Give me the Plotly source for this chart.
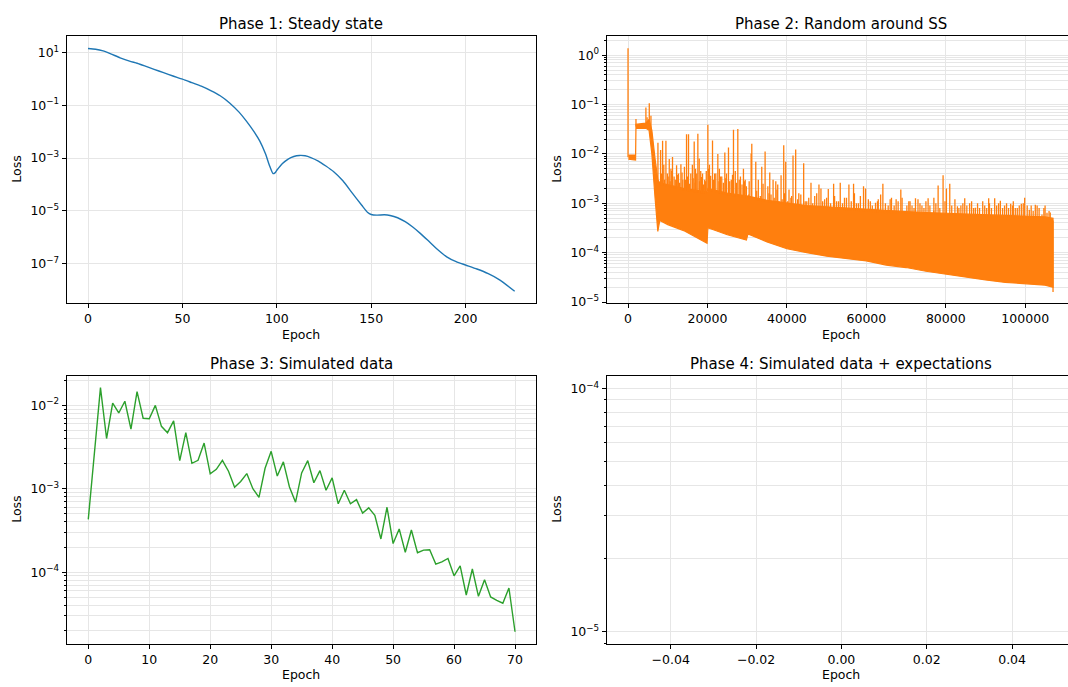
import numpy as np
import plotly.graph_objects as go

# ---------------- data ----------------
# Phase 1: steady state
p1_epoch = [0, 4, 8, 12, 17, 22, 26, 30, 35, 40, 45, 50, 55, 60, 65, 70, 75, 80, 84, 88,
            91, 94, 96, 98, 99, 100, 103, 106, 109, 112, 115, 118, 122, 126, 130, 135, 140,
            145, 148, 150, 153, 157, 160, 164, 168, 172, 176, 180, 185, 190, 195, 200, 206,
            212, 218, 226]
p1_loss = [14.1, 13.3, 11.5, 8.9, 6.3, 4.7, 3.9, 3.1, 2.3, 1.73, 1.29, 0.98, 0.72, 0.53,
           0.36, 0.23, 0.123, 0.055, 0.0245, 0.0098, 0.0044, 0.00146, 0.00055, 0.000258,
           0.000275, 0.000345, 0.00062, 0.00092, 0.00115, 0.00126, 0.00122, 0.00105,
           0.00077, 0.0005, 0.00031, 0.000138, 4.7e-5, 1.63e-5, 8.9e-6, 7.3e-6, 6.9e-6,
           7.1e-6, 6.7e-6, 5.5e-6, 3.9e-6, 2.45e-6, 1.41e-6, 7.7e-7, 3.55e-7, 1.82e-7,
           1.19e-7, 8.9e-8, 6.3e-8, 4.2e-8, 2.45e-8, 9.1e-9]

# Phase 2: random around SS -- dense band (lower / upper edge) plus spikes
p2_band_epoch = [100, 1900, 2000, 4500, 5300, 6000, 6800, 7500, 8000, 10000, 14000, 19900,
                 20100, 25000, 29800, 30200, 35000, 40000, 45000, 50000, 55000, 60000,
                 65000, 70000, 75000, 80000, 85000, 90000, 95000, 100000, 105000, 107000]
p2_band_low = [7.8e-3, 7.5e-3, 3.3e-2, 3.3e-2, 3.0e-2, 1.0e-2, 1.3e-3, 2.7e-4, 4.5e-4,
               3.7e-4, 2.8e-4, 1.55e-4, 3.2e-4, 2.3e-4, 1.8e-4, 2.4e-4, 1.65e-4, 1.2e-4,
               1.0e-4, 8.5e-5, 7.6e-5, 6.8e-5, 5.6e-5, 5.0e-5, 4.2e-5, 3.6e-5, 3.2e-5,
               2.8e-5, 2.5e-5, 2.35e-5, 2.2e-5, 2.0e-5]
p2_band_high = [9.5e-3, 9.5e-3, 4.0e-2, 4.2e-2, 5.0e-2, 3.0e-2, 8.0e-3, 3.0e-3, 2.6e-3,
                2.4e-3, 2.0e-3, 1.7e-3, 2.0e-3, 1.6e-3, 1.4e-3, 1.4e-3, 1.15e-3, 1.0e-3,
                9.0e-4, 8.5e-4, 8.0e-4, 7.5e-4, 7.0e-4, 6.8e-4, 6.5e-4, 6.3e-4, 6.0e-4,
                5.8e-4, 5.6e-4, 5.5e-4, 5.3e-4, 5.0e-4]
p2_spike_epoch = [0, 2000, 4500, 4800, 5350, 5770, 7530, 8200, 8700, 9000, 9540, 9900, 10380,
                  10800, 11200, 11600, 12220, 12700, 13310, 13800, 14200, 14730, 15230, 15800,
                  16200, 16660, 17000, 17580, 17920, 18300, 18760, 19300, 19700, 20100, 20500,
                  21270, 21800, 22610, 23000, 23600, 24370, 24800, 25290, 26000, 26550, 27000,
                  27640, 28300, 29060, 29500, 30500, 30990, 31160, 32160, 32800, 33000, 33670,
                  34000, 34510, 35200, 35680, 36000, 36520, 37200, 37690, 38000, 38530, 39200,
                  39700, 40530, 41000, 41540, 42210, 43000, 44220, 45000, 46060, 47000, 48070,
                  48570, 49500, 50420, 51760, 52500, 53430, 54500, 55610, 56780, 57500, 58500,
                  59290, 59800, 61000, 62310, 63000, 64160, 65500, 66330, 67500, 68680, 69850,
                  70690, 71500, 72370, 73500, 74500, 75550, 76980, 77500, 78070, 79320, 80160,
                  81000, 82930, 83800, 84770, 86000, 87450, 88500, 89800, 90800, 91500, 92310,
                  93740, 94800, 96340, 97500, 99020, 99860, 100500, 101030, 102540, 103500,
                  104220, 105480, 106000, 106740, 107000]
p2_spike_loss = [1.38, 0.051, 0.087, 0.055, 0.106, 0.059, 0.0168, 0.012, 0.0185, 0.006, 0.0185,
                 0.004, 0.0079, 0.005, 0.0087, 0.0035, 0.0059, 0.004, 0.0062, 0.003, 0.0055,
                 0.025, 0.025, 0.004, 0.006, 0.0178, 0.005, 0.0257, 0.0081, 0.0045, 0.004,
                 0.003, 0.0045, 0.039, 0.006, 0.0186, 0.004, 0.010, 0.005, 0.0035, 0.0107,
                 0.004, 0.0135, 0.003, 0.031, 0.0045, 0.032, 0.0035, 0.005, 0.003, 0.0028,
                 0.0102, 0.016, 0.0069, 0.003, 0.0012, 0.0055, 0.0025, 0.0112, 0.0022, 0.0042,
                 0.0015, 0.003, 0.0028, 0.0024, 0.0011, 0.0037, 0.015, 0.0069, 0.0019, 0.0013,
                 0.0093, 0.0123, 0.0016, 0.0065, 0.0011, 0.0026, 0.0014, 0.0024, 0.002, 0.0012,
                 0.00195, 0.0025, 0.0011, 0.0026, 0.0013, 0.0024, 0.0025, 0.0010, 0.0014,
                 0.0022, 0.0020, 0.0011, 0.00102, 0.0012, 0.0025, 0.0009, 0.0013, 0.0012,
                 0.0019, 0.00069, 0.0011, 0.0009, 0.00126, 0.0010, 0.0008, 0.00126, 0.00071,
                 0.0010, 0.0023, 0.0037, 0.0020, 0.0025, 0.00087, 0.0009, 0.00126, 0.0010,
                 0.00081, 0.0008, 0.0009, 0.00126, 0.0008, 0.00126, 0.00113, 0.0009, 0.00098,
                 0.0008, 0.00098, 0.0013, 0.0009, 0.00074, 0.00093, 0.0008, 0.00059, 0.00064,
                 0.0007, 0.00047, 1.6e-5]
# smaller spikes forming the ragged top of the band
p2_grass_epoch = [8400, 9200, 10100, 10600, 11000, 11900, 12400, 13000, 13600, 14500, 15000,
                  15500, 16400, 16900, 17300, 18000, 18500, 19000, 19500, 20300, 20800, 21500,
                  22100, 22900, 23300, 24000, 24600, 25600, 26300, 27300, 28000, 28700, 29300,
                  29800,
                  30400, 31600, 32400, 33300, 34200, 35500, 36800, 37500, 38800, 39400, 40200,
                  41200, 42700, 43500, 44600, 45500, 46500, 47500, 49000, 50000, 51000, 52000,
                  53000, 54000, 55000, 56200, 57000, 58000, 60500, 61500, 62800, 63600, 64800,
                  66000, 67000, 68000, 69000, 70200, 71000, 72000, 73000, 74000, 75000, 76000,
                  77000, 78500, 79800, 81500, 82300, 83300, 84300, 85300, 86500, 87000, 88000,
                  89300, 90300, 91000, 92800, 93300, 94300, 95300, 95800, 96800, 97000, 98000,
                  98500, 99500, 101500, 102000, 103000, 104700, 105000, 106300]
p2_grass_loss = [4e-3, 3e-3, 3.5e-3, 2.8e-3, 4.5e-3, 3e-3, 3.8e-3, 2.6e-3, 4.2e-3, 3e-3, 3.5e-3,
                 2.5e-3, 3.2e-3, 2.6e-3, 4e-3, 2.8e-3, 3.4e-3, 2.4e-3, 2.8e-3, 5e-3, 3.6e-3,
                 3e-3, 4e-3, 2.8e-3, 3.5e-3, 2.6e-3, 3.2e-3, 2.8e-3, 3.8e-3, 2.6e-3, 3e-3,
                 2.4e-3, 2.8e-3, 2.2e-3,
                 1.5e-3, 1.2e-3, 1.8e-3, 1.4e-3, 1.1e-3, 1.6e-3, 1.3e-3, 1.9e-3, 1.2e-3, 1.6e-3,
                 1.1e-3, 1.4e-3, 1.2e-3, 1.5e-3, 1.1e-3, 1.3e-3, 1.0e-3, 1.6e-3, 1.1e-3, 1.3e-3,
                 1.0e-3, 1.4e-3, 1.1e-3, 1.0e-3, 1.3e-3, 1.1e-3, 1.6e-3, 1.0e-3, 1.2e-3, 9e-4,
                 1.1e-3, 1.5e-3, 1.0e-3, 1.2e-3, 9e-4, 1.1e-3, 1.3e-3, 9e-4, 1.1e-3, 8e-4,
                 1.2e-3, 9e-4, 1.1e-3, 9e-4, 1.3e-3, 8e-4, 1.1e-3, 9e-4, 1.2e-3, 8e-4, 1.0e-3,
                 9e-4, 1.1e-3, 8e-4, 1.0e-3, 1.1e-3, 8e-4, 1.0e-3, 9e-4, 1.0e-3, 8e-4, 1.0e-3,
                 8e-4, 9e-4, 1.1e-3, 8e-4, 9e-4, 1.0e-3, 9e-4, 7e-4, 9e-4, 8e-4, 9e-4, 6.5e-4]

# Phase 3: simulated data
p3_epoch = list(range(71))
p3_loss = [4.3e-4, 2.6e-3, 0.0163, 0.0040, 0.0106, 0.0081, 0.0112, 0.0052, 0.0146, 0.0070,
           0.0069, 0.0100, 0.0056, 0.0047, 0.0065, 0.00217, 0.0047, 0.00202, 0.00219, 0.00353,
           0.00151, 0.00171, 0.00219, 0.00162, 0.00104, 0.00122, 0.00152, 0.00100, 0.00079,
           0.00176, 0.00281, 0.00142, 0.00210, 0.00105, 0.00069, 0.00155, 0.00217, 0.00118,
           0.00165, 0.00096, 0.00135, 0.00066, 0.00096, 0.00066, 0.00074, 0.00051, 0.00059,
           0.00048, 0.00025, 0.00060, 0.00022, 0.00033, 0.000173, 0.00032, 0.000171, 0.000184,
           0.000186, 0.000125, 0.000133, 0.000146, 9.04e-5, 0.000119, 5.32e-5, 0.000109,
           5.13e-5, 8.1e-5, 5.04e-5, 4.6e-5, 4.24e-5, 6.46e-5, 1.93e-5]

# Phase 4: no data
p4_epoch = []
p4_loss = []

titles = ["Phase 1: Steady state", "Phase 2: Random around SS",
          "Phase 3: Simulated data", "Phase 4: Simulated data + expectations"]
x_label = "Epoch"
y_label = "Loss"

# ---------------- layout helpers ----------------
W, H = 1068, 687
FONT = "DejaVu Sans"
BLUE, ORANGE, GREEN = "#1f77b4", "#ff7f0e", "#2ca02c"
GRID = "#e6e6e6"


def pxx(p):
    return p / W


def pxy(p):
    return 1 - p / H


def sup(e):
    return "10<sup>" + ("\u2212" if e < 0 else "") + str(abs(e)) + "</sup>"


def minor_vals(lo, hi):
    return [m * 10.0 ** k for k in range(lo, hi) for m in range(2, 10)]


LEFT = [pxx(66.7), pxx(536)]
RIGHT = [pxx(606.7), 1.0]
TOP = [pxy(305.7), pxy(36.7)]
BOT = [pxy(649.3), pxy(379.3)]

fig = go.Figure()

# Phase 1
fig.add_trace(go.Scatter(x=p1_epoch, y=p1_loss, mode="lines",
                         line=dict(color=BLUE, width=1.4, shape="spline", smoothing=0.6),
                         xaxis="x", yaxis="y"))

# Phase 2: band
bx = p2_band_epoch + p2_band_epoch[::-1]
by = p2_band_high + p2_band_low[::-1]
fig.add_trace(go.Scatter(x=bx, y=by, mode="lines", fill="toself", fillcolor=ORANGE,
                         line=dict(color=ORANGE, width=1.2), xaxis="x2", yaxis="y2"))
# Phase 2: spikes
sx, sy = [], []
for ep, lv in [(p2_spike_epoch, p2_spike_loss), (p2_grass_epoch, p2_grass_loss)]:
    base = np.interp(ep, p2_band_epoch, p2_band_high)
    for e, v, b in zip(ep, lv, base):
        sx += [e, e, None]
        sy += [b * 0.9, v, None]
fig.add_trace(go.Scatter(x=sx, y=sy, mode="lines", line=dict(color=ORANGE, width=1.3),
                         xaxis="x2", yaxis="y2"))

# Phase 3
fig.add_trace(go.Scatter(x=p3_epoch, y=p3_loss, mode="lines", line=dict(color=GREEN, width=1.4),
                         xaxis="x3", yaxis="y3"))
# Phase 4 (empty)
fig.add_trace(go.Scatter(x=p4_epoch, y=p4_loss, mode="lines", xaxis="x4", yaxis="y4"))

tickfont = dict(family=FONT, size=12.5, color="black")


def xaxis(domain, anchor, rng, tickvals=None, ticktext=None):
    d = dict(domain=domain, anchor=anchor, range=rng, showline=True, linecolor="black",
             linewidth=1, mirror=True, ticks="outside", ticklen=4, tickcolor="black",
             showgrid=True, gridcolor=GRID, gridwidth=1, zeroline=False, tickfont=tickfont)
    if tickvals is not None:
        d.update(tickmode="array", tickvals=tickvals, ticktext=ticktext)
    return d


def yaxis(domain, anchor, rng, exps, minor, mirror=True):
    d = dict(domain=domain, anchor=anchor, type="log", range=rng, showline=True,
             linecolor="black", linewidth=1, mirror=mirror, ticks="outside", ticklen=4,
             tickcolor="black", showgrid=True, gridcolor=GRID, gridwidth=1, zeroline=False,
             tickfont=tickfont, tickmode="array", tickvals=[10.0 ** e for e in exps],
             ticktext=[sup(e) for e in exps])
    if minor is not None:
        d["minor"] = dict(tickmode="array", tickvals=minor, ticks="outside", ticklen=2,
                          tickcolor="black", showgrid=True, gridcolor=GRID, gridwidth=1)
    return d


fig.update_layout(
    width=W, height=H, margin=dict(l=0, r=0, t=0, b=0),
    paper_bgcolor="white", plot_bgcolor="white", showlegend=False,
    xaxis=xaxis(LEFT, "y", [-11.3, 237.3], [0, 50, 100, 150, 200], ["0", "50", "100", "150", "200"]),
    yaxis=yaxis(TOP, "x", [-8.49, 1.61], [1, -1, -3, -5, -7], None),
    xaxis2=xaxis(RIGHT, "y2", [-5370, 110770], [0, 20000, 40000, 60000, 80000, 100000],
                 ["0", "20000", "40000", "60000", "80000", "100000"]),
    yaxis2=yaxis(TOP, "x2", [-5.02, 0.38], [0, -1, -2, -3, -4, -5], minor_vals(-6, 1), mirror=False),
    xaxis3=xaxis(LEFT, "y3", [-3.54, 73.44], list(range(0, 71, 10)), [str(v) for v in range(0, 71, 10)]),
    yaxis3=yaxis(BOT, "x3", [-4.857, -1.648], [-2, -3, -4], minor_vals(-5, -1)),
    xaxis4=xaxis(RIGHT, "y4", [-0.055, 0.0531], [-0.04, -0.02, 0.0, 0.02, 0.04],
                 ["\u22120.04", "\u22120.02", "0.00", "0.02", "0.04"]),
    yaxis4=yaxis(BOT, "x4", [-5.048, -3.948], [-4, -5], minor_vals(-6, -4), mirror=False),
)

ann = []
panel_centres_x = [(66.7 + 536) / 2, (606.7 + 1076) / 2, (66.7 + 536) / 2, (606.7 + 1076) / 2]
title_y = [24.2, 24.2, 366.8, 366.8]
for t, cx, ty in zip(titles, panel_centres_x, title_y):
    ann.append(dict(text=t, x=pxx(cx), y=pxy(ty), xref="paper", yref="paper", showarrow=False,
                    xanchor="center", yanchor="middle", font=dict(family=FONT, size=15, color="black")))
label_y = [337, 337, 680.5, 680.5]
for cx, ly in zip(panel_centres_x, label_y):
    ann.append(dict(text=x_label, x=pxx(cx), y=pxy(ly), xref="paper", yref="paper", showarrow=False,
                    xanchor="center", yanchor="middle", font=dict(family=FONT, size=12.5, color="black")))
for lx, ly in [(17, 171.2), (557, 171.2), (17, 514.3), (557, 514.3)]:
    ann.append(dict(text=y_label, x=pxx(lx), y=pxy(ly), xref="paper", yref="paper", showarrow=False,
                    textangle=-90, xanchor="center", yanchor="middle",
                    font=dict(family=FONT, size=12.5, color="black")))
fig.update_layout(annotations=ann)

fig.write_html("out.html")
